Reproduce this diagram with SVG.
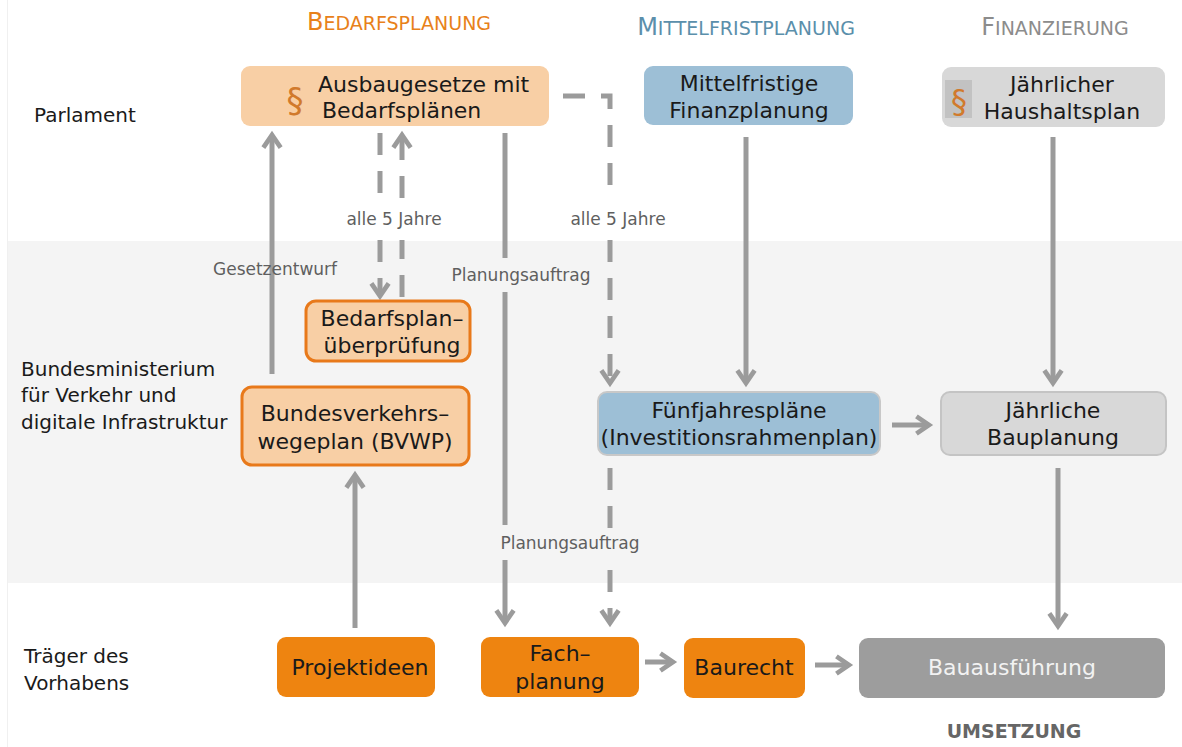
<svg xmlns="http://www.w3.org/2000/svg" width="1182" height="747" viewBox="0 0 1182 747">
<style>
text{font-family:"DejaVu Sans","Liberation Sans",sans-serif;}
.nt{font-size:22px;fill:#1a1a1a;text-anchor:middle;}
.lt{font-size:20px;fill:#1a1a1a;}
.pt{font-size:22px;fill:#1a1a1a;}
.cl{font-size:17px;fill:#5f5f5f;}
.c{fill:none;stroke:#9b9b9b;stroke-width:5;}
.d{stroke-dasharray:22 16;}
.peach{fill:#f8cfa5;}
.blue{fill:#9dbfd6;}
.grey{fill:#d8d8d8;}
.org{fill:#ee8410;}
.ob{stroke:#e8791a;stroke-width:3;}
</style>
<defs>
<marker id="ah" viewBox="0 0 14 14" refX="11" refY="7" markerWidth="22" markerHeight="22" markerUnits="userSpaceOnUse" orient="auto">
<path d="M3,1.5 L11,7 L3,12.5" fill="none" stroke="#9b9b9b" stroke-width="3" stroke-dasharray="none"/>
</marker>
</defs>
<rect x="0" y="0" width="1182" height="747" fill="#ffffff"/>
<rect x="8" y="241" width="1174" height="342" fill="#f4f4f4"/>
<line x1="7.5" y1="0" x2="7.5" y2="747" stroke="#f0f0f0" stroke-width="1"/>

<g id="headers">
<text x="399" y="30" text-anchor="middle" fill="#e8811a" font-size="19"><tspan font-size="24">B</tspan>EDARFSPLANUNG</text>
<text x="746" y="35" text-anchor="middle" fill="#5b8fab" font-size="19"><tspan font-size="24">M</tspan>ITTELFRISTPLANUNG</text>
<text x="1055" y="35" text-anchor="middle" fill="#8c8c8c" font-size="19"><tspan font-size="24">F</tspan>INANZIERUNG</text>
<text x="1014" y="738" text-anchor="middle" fill="#666666" font-size="19" font-weight="bold">UMSETZUNG</text>
</g>

<g id="rowlabels">
<text class="lt" x="34" y="122">Parlament</text>
<text class="lt" x="21" y="376">Bundesministerium</text>
<text class="lt" x="21" y="402">für Verkehr und</text>
<text class="lt" x="21" y="429">digitale Infrastruktur</text>
<text class="lt" x="24" y="663">Träger des</text>
<text class="lt" x="24" y="690">Vorhabens</text>
</g>

<g id="connectors">
<path class="c" d="M272,374 V135" marker-end="url(#ah)"/>
<path class="c d" d="M380,133 V198"/>
<path class="c d" d="M380,240 V296" marker-end="url(#ah)"/>
<path class="c d" d="M402,297 V240"/>
<path class="c d" d="M402,198 V135" marker-end="url(#ah)"/>
<path class="c" d="M505,133 V258"/>
<path class="c" d="M505,292 V525"/>
<path class="c" d="M505,560 V623" marker-end="url(#ah)"/>
<path class="c d" d="M563,96 H610 V198"/>
<path class="c d" d="M610,240 V383" marker-end="url(#ah)"/>
<path class="c d" d="M610,468 V528"/>
<path class="c d" d="M610,570 V623" marker-end="url(#ah)"/>
<path class="c" d="M746,137 V383" marker-end="url(#ah)"/>
<path class="c" d="M1053,137 V383" marker-end="url(#ah)"/>
<path class="c" d="M892,425 H929" marker-end="url(#ah)"/>
<path class="c" d="M1058,468 V626" marker-end="url(#ah)"/>
<path class="c" d="M355,628 V475" marker-end="url(#ah)"/>
<path class="c" d="M645,662 H673" marker-end="url(#ah)"/>
<path class="c" d="M815,665 H849" marker-end="url(#ah)"/>
<text class="cl" x="213" y="275">Gesetzentwurf</text>
<text class="cl" x="394" y="225" text-anchor="middle">alle 5 Jahre</text>
<text class="cl" x="618" y="225" text-anchor="middle">alle 5 Jahre</text>
<text class="cl" x="521" y="281" text-anchor="middle">Planungsauftrag</text>
<text class="cl" x="570" y="549" text-anchor="middle">Planungsauftrag</text>
</g>

<g id="n-ausbaugesetze">
<rect class="peach" x="241" y="66" width="308" height="60" rx="9"/>
<text x="295" y="112" font-family="Liberation Serif,serif" font-size="34" fill="#d17a2c" text-anchor="middle">§</text>
<text class="pt" x="318" y="92">Ausbaugesetze mit</text>
<text class="pt" x="322" y="118">Bedarfsplänen</text>
</g>

<g id="n-mittelfristige">
<rect class="blue" x="644" y="66" width="209" height="59" rx="9"/>
<text class="nt" x="749" y="91">Mittelfristige</text>
<text class="nt" x="749" y="118">Finanzplanung</text>
</g>

<g id="n-haushaltsplan">
<rect class="grey" x="942" y="67" width="223" height="60" rx="9"/>
<rect x="945" y="80" width="27" height="38" fill="#c2c2c2"/>
<text x="959" y="112" font-family="Liberation Serif,serif" font-size="32" fill="#d17a2c" text-anchor="middle">§</text>
<text class="nt" x="1062" y="92">Jährlicher</text>
<text class="nt" x="1062" y="119">Haushaltsplan</text>
</g>

<g id="n-bedarfsplanueberpruefung">
<rect class="peach ob" x="306" y="301" width="164" height="60" rx="10"/>
<text class="nt" x="392" y="326">Bedarfsplan–</text>
<text class="nt" x="392" y="353">überprüfung</text>
</g>

<g id="n-bvwp">
<rect class="peach ob" x="242" y="387" width="227" height="78" rx="10"/>
<text class="nt" x="355" y="421">Bundesverkehrs–</text>
<text class="nt" x="355" y="449">wegeplan (BVWP)</text>
</g>

<g id="n-fuenfjahresplaene">
<rect class="blue" x="598" y="392" width="282" height="63" rx="9" stroke="#c8c8c8" stroke-width="2"/>
<text class="nt" x="739" y="418">Fünfjahrespläne</text>
<text class="nt" x="739" y="445">(Investitionsrahmenplan)</text>
</g>

<g id="n-bauplanung">
<rect class="grey" x="941" y="392" width="225" height="63" rx="9" stroke="#c4c4c4" stroke-width="2"/>
<text class="nt" x="1053" y="418">Jährliche</text>
<text class="nt" x="1053" y="445">Bauplanung</text>
</g>

<g id="n-projektideen">
<rect class="org" x="277" y="637" width="158" height="60" rx="9"/>
<text class="nt" x="360" y="675">Projektideen</text>
</g>

<g id="n-fachplanung">
<rect class="org" x="481" y="637" width="158" height="60" rx="9"/>
<text class="nt" x="560" y="661">Fach–</text>
<text class="nt" x="560" y="689">planung</text>
</g>

<g id="n-baurecht">
<rect class="org" x="684" y="638" width="121" height="60" rx="9"/>
<text class="nt" x="744" y="675">Baurecht</text>
</g>

<g id="n-bauausfuehrung">
<rect x="859" y="638" width="306" height="60" rx="9" fill="#9d9d9d"/>
<text class="nt" x="1012" y="675" style="fill:#f2f2f2">Bauausführung</text>
</g>
</svg>
